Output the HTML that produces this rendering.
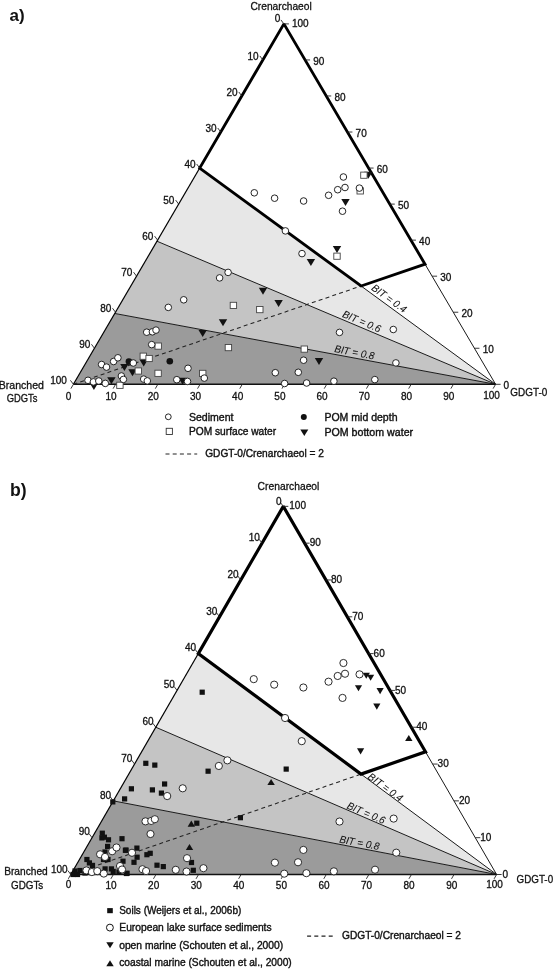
<!DOCTYPE html><html><head><meta charset="utf-8"><style>
html,body{margin:0;padding:0;background:#fff;}
svg{display:block;will-change:transform;}
text{font-family:"Liberation Sans", sans-serif;fill:#111;stroke:#111;stroke-width:0.3px;}
.ax{font-size:10px;}
.lab{font-size:10.8px;}
.bit{font-size:10.3px;font-style:italic;stroke-width:0.05px;}
.leg{font-size:10.6px;stroke-width:0.38px;}
.hd{font-size:17px;font-weight:bold;stroke-width:0;}
</style></head><body>
<svg width="557" height="969" viewBox="0 0 557 969">
<polygon points="114.76,313.48 73.4,384.3 495.6,384.3" fill="#9b9b9b"/>
<polygon points="156.97,241.22 114.76,313.48 495.6,384.3" fill="#c4c4c4"/>
<polygon points="199.7,168.06 156.97,241.22 495.6,384.3" fill="#e7e7e7"/>
<line x1="199.7" y1="168.06" x2="495.6" y2="384.3" stroke="#1a1a1a" stroke-width="1"/>
<line x1="156.97" y1="241.22" x2="495.6" y2="384.3" stroke="#1a1a1a" stroke-width="1"/>
<line x1="114.76" y1="313.48" x2="495.6" y2="384.3" stroke="#1a1a1a" stroke-width="1"/>
<polyline points="283.9,23.9 73.4,384.3" fill="none" stroke="#000" stroke-width="1.2"/>
<polyline points="495.6,384.3 283.9,23.9" fill="none" stroke="#1a1a1a" stroke-width="1"/>
<line x1="73.4" y1="384.3" x2="495.6" y2="384.3" stroke="#111" stroke-width="1.6"/>
<line x1="73.4" y1="384.3" x2="361.1" y2="286.01" stroke="#222" stroke-width="1.05" stroke-dasharray="4,3.2"/>
<polygon points="283.9,23.9 199.7,168.06 361.1,286.01 425.03,264.17" fill="none" stroke="#000" stroke-width="2.85" stroke-linejoin="miter" stroke-miterlimit="1.8"/>
<line x1="283.9" y1="23.9" x2="280.9" y2="19.9" stroke="#222" stroke-width="0.9"/>
<text x="280.4" y="21.7" text-anchor="end" class="ax">0</text>
<line x1="283.9" y1="23.9" x2="288.9" y2="23.9" stroke="#222" stroke-width="0.9"/>
<text x="292" y="26.6" class="ax">100</text>
<line x1="73.4" y1="384.3" x2="70.9" y2="388.63" stroke="#222" stroke-width="0.9"/>
<text x="68.6" y="399.5" text-anchor="middle" class="ax">0</text>
<line x1="262.85" y1="59.94" x2="259.85" y2="55.94" stroke="#222" stroke-width="0.9"/>
<text x="258.65" y="59.94" text-anchor="end" class="ax">10</text>
<line x1="305.07" y1="59.94" x2="310.07" y2="59.94" stroke="#222" stroke-width="0.9"/>
<text x="313.27" y="64.64" class="ax">90</text>
<line x1="115.62" y1="384.3" x2="113.12" y2="388.63" stroke="#222" stroke-width="0.9"/>
<text x="111.02" y="399.6" text-anchor="middle" class="ax">10</text>
<line x1="241.8" y1="95.98" x2="238.8" y2="91.98" stroke="#222" stroke-width="0.9"/>
<text x="237.6" y="95.98" text-anchor="end" class="ax">20</text>
<line x1="326.24" y1="95.98" x2="331.24" y2="95.98" stroke="#222" stroke-width="0.9"/>
<text x="334.44" y="100.68" class="ax">80</text>
<line x1="157.84" y1="384.3" x2="155.34" y2="388.63" stroke="#222" stroke-width="0.9"/>
<text x="153.24" y="399.6" text-anchor="middle" class="ax">20</text>
<line x1="220.75" y1="132.02" x2="217.75" y2="128.02" stroke="#222" stroke-width="0.9"/>
<text x="216.55" y="132.02" text-anchor="end" class="ax">30</text>
<line x1="347.41" y1="132.02" x2="352.41" y2="132.02" stroke="#222" stroke-width="0.9"/>
<text x="355.61" y="136.72" class="ax">70</text>
<line x1="200.06" y1="384.3" x2="197.56" y2="388.63" stroke="#222" stroke-width="0.9"/>
<text x="195.46" y="399.6" text-anchor="middle" class="ax">30</text>
<line x1="199.7" y1="168.06" x2="196.7" y2="164.06" stroke="#222" stroke-width="0.9"/>
<text x="195.5" y="168.06" text-anchor="end" class="ax">40</text>
<line x1="368.58" y1="168.06" x2="373.58" y2="168.06" stroke="#222" stroke-width="0.9"/>
<text x="376.78" y="172.76" class="ax">60</text>
<line x1="242.28" y1="384.3" x2="239.78" y2="388.63" stroke="#222" stroke-width="0.9"/>
<text x="237.68" y="399.6" text-anchor="middle" class="ax">40</text>
<line x1="178.65" y1="204.1" x2="175.65" y2="200.1" stroke="#222" stroke-width="0.9"/>
<text x="174.45" y="204.1" text-anchor="end" class="ax">50</text>
<line x1="389.75" y1="204.1" x2="394.75" y2="204.1" stroke="#222" stroke-width="0.9"/>
<text x="397.95" y="208.8" class="ax">50</text>
<line x1="284.5" y1="384.3" x2="282" y2="388.63" stroke="#222" stroke-width="0.9"/>
<text x="279.9" y="399.6" text-anchor="middle" class="ax">50</text>
<line x1="157.6" y1="240.14" x2="154.6" y2="236.14" stroke="#222" stroke-width="0.9"/>
<text x="153.4" y="240.14" text-anchor="end" class="ax">60</text>
<line x1="410.92" y1="240.14" x2="415.92" y2="240.14" stroke="#222" stroke-width="0.9"/>
<text x="419.12" y="244.84" class="ax">40</text>
<line x1="326.72" y1="384.3" x2="324.22" y2="388.63" stroke="#222" stroke-width="0.9"/>
<text x="322.12" y="399.6" text-anchor="middle" class="ax">60</text>
<line x1="136.55" y1="276.18" x2="133.55" y2="272.18" stroke="#222" stroke-width="0.9"/>
<text x="132.35" y="276.18" text-anchor="end" class="ax">70</text>
<line x1="432.09" y1="276.18" x2="437.09" y2="276.18" stroke="#222" stroke-width="0.9"/>
<text x="440.29" y="280.88" class="ax">30</text>
<line x1="368.94" y1="384.3" x2="366.44" y2="388.63" stroke="#222" stroke-width="0.9"/>
<text x="364.34" y="399.6" text-anchor="middle" class="ax">70</text>
<line x1="115.5" y1="312.22" x2="112.5" y2="308.22" stroke="#222" stroke-width="0.9"/>
<text x="111.3" y="312.22" text-anchor="end" class="ax">80</text>
<line x1="453.26" y1="312.22" x2="458.26" y2="312.22" stroke="#222" stroke-width="0.9"/>
<text x="461.46" y="316.92" class="ax">20</text>
<line x1="411.16" y1="384.3" x2="408.66" y2="388.63" stroke="#222" stroke-width="0.9"/>
<text x="406.56" y="399.6" text-anchor="middle" class="ax">80</text>
<line x1="94.45" y1="348.26" x2="91.45" y2="344.26" stroke="#222" stroke-width="0.9"/>
<text x="90.25" y="348.26" text-anchor="end" class="ax">90</text>
<line x1="474.43" y1="348.26" x2="479.43" y2="348.26" stroke="#222" stroke-width="0.9"/>
<text x="482.63" y="352.96" class="ax">10</text>
<line x1="453.38" y1="384.3" x2="450.88" y2="388.63" stroke="#222" stroke-width="0.9"/>
<text x="448.78" y="399.6" text-anchor="middle" class="ax">90</text>
<line x1="73.4" y1="384.3" x2="70.4" y2="380.3" stroke="#222" stroke-width="0.9"/>
<text x="66.9" y="384.4" text-anchor="end" class="ax">100</text>
<line x1="495.6" y1="384.3" x2="500.6" y2="384.3" stroke="#222" stroke-width="0.9"/>
<text x="503.5" y="388.7" class="ax">0</text>
<line x1="495.6" y1="384.3" x2="493.1" y2="388.63" stroke="#222" stroke-width="0.9"/>
<text x="491.6" y="399" text-anchor="middle" class="ax">100</text>
<text transform="translate(370.7,289.3) rotate(36.16)" class="bit" textLength="40.5" lengthAdjust="spacingAndGlyphs">BIT = 0.4</text>
<text transform="translate(341.7,316.8) rotate(22.91)" class="bit" textLength="40.5" lengthAdjust="spacingAndGlyphs">BIT = 0.6</text>
<text transform="translate(333.9,352) rotate(10.53)" class="bit" textLength="40.5" lengthAdjust="spacingAndGlyphs">BIT = 0.8</text>
<polygon points="364.1,171.7 372.5,171.7 368.3,178.7" fill="#111"/>
<polygon points="341.3,198.9 349.7,198.9 345.5,205.9" fill="#111"/>
<polygon points="306.7,258.9 315.1,258.9 310.9,265.9" fill="#111"/>
<polygon points="332.8,246 341.2,246 337,253" fill="#111"/>
<polygon points="258.8,287.7 267.2,287.7 263,294.7" fill="#111"/>
<polygon points="274.4,299.9 282.8,299.9 278.6,306.9" fill="#111"/>
<polygon points="218.8,319.2 227.2,319.2 223,326.2" fill="#111"/>
<polygon points="198.5,329.9 206.9,329.9 202.7,336.9" fill="#111"/>
<polygon points="314.8,358.1 323.2,358.1 319,365.1" fill="#111"/>
<polygon points="178.4,377.8 186.8,377.8 182.6,384.8" fill="#111"/>
<polygon points="89.7,383.1 98.1,383.1 93.9,390.1" fill="#111"/>
<polygon points="107.2,377.2 115.6,377.2 111.4,384.2" fill="#111"/>
<polygon points="120.2,364.1 128.6,364.1 124.4,371.1" fill="#111"/>
<polygon points="128.3,369.2 136.7,369.2 132.5,376.2" fill="#111"/>
<polygon points="139.5,359.5 147.9,359.5 143.7,366.5" fill="#111"/>
<circle cx="169.8" cy="361.3" r="3.3" fill="#111"/>
<circle cx="128.9" cy="361.6" r="3.3" fill="#111"/>
<rect x="360.7" y="172.1" width="6.4" height="6.2" fill="#fff" stroke="#444" stroke-width="0.9"/>
<rect x="357" y="187.8" width="6.4" height="6.2" fill="#fff" stroke="#444" stroke-width="0.9"/>
<rect x="333.8" y="253.1" width="6.4" height="6.2" fill="#fff" stroke="#444" stroke-width="0.9"/>
<rect x="230.2" y="302.3" width="6.4" height="6.2" fill="#fff" stroke="#444" stroke-width="0.9"/>
<rect x="256.6" y="306.5" width="6.4" height="6.2" fill="#fff" stroke="#444" stroke-width="0.9"/>
<rect x="225.2" y="344.5" width="6.4" height="6.2" fill="#fff" stroke="#444" stroke-width="0.9"/>
<rect x="301.1" y="346" width="6.4" height="6.2" fill="#fff" stroke="#444" stroke-width="0.9"/>
<rect x="199.5" y="370.3" width="6.4" height="6.2" fill="#fff" stroke="#444" stroke-width="0.9"/>
<rect x="155" y="343" width="6.4" height="6.2" fill="#fff" stroke="#444" stroke-width="0.9"/>
<rect x="140.1" y="353.1" width="6.4" height="6.2" fill="#fff" stroke="#444" stroke-width="0.9"/>
<rect x="145.9" y="355.4" width="6.4" height="6.2" fill="#fff" stroke="#444" stroke-width="0.9"/>
<rect x="135.1" y="367.9" width="6.4" height="6.2" fill="#fff" stroke="#444" stroke-width="0.9"/>
<rect x="154.9" y="370.2" width="6.4" height="6.2" fill="#fff" stroke="#444" stroke-width="0.9"/>
<rect x="116.7" y="382.2" width="6.4" height="6.2" fill="#fff" stroke="#444" stroke-width="0.9"/>
<circle cx="254.3" cy="192.8" r="3.3" fill="#fff" stroke="#1a1a1a" stroke-width="0.95"/>
<circle cx="274.6" cy="198.2" r="3.3" fill="#fff" stroke="#1a1a1a" stroke-width="0.95"/>
<circle cx="303.6" cy="201" r="3.3" fill="#fff" stroke="#1a1a1a" stroke-width="0.95"/>
<circle cx="328.6" cy="195.3" r="3.3" fill="#fff" stroke="#1a1a1a" stroke-width="0.95"/>
<circle cx="337.7" cy="189.7" r="3.3" fill="#fff" stroke="#1a1a1a" stroke-width="0.95"/>
<circle cx="345" cy="187.5" r="3.3" fill="#fff" stroke="#1a1a1a" stroke-width="0.95"/>
<circle cx="343.4" cy="177" r="3.3" fill="#fff" stroke="#1a1a1a" stroke-width="0.95"/>
<circle cx="359.4" cy="188.1" r="3.3" fill="#fff" stroke="#1a1a1a" stroke-width="0.95"/>
<circle cx="342.5" cy="211.2" r="3.3" fill="#fff" stroke="#1a1a1a" stroke-width="0.95"/>
<circle cx="285.4" cy="230.9" r="3.3" fill="#fff" stroke="#1a1a1a" stroke-width="0.95"/>
<circle cx="302" cy="253.6" r="3.3" fill="#fff" stroke="#1a1a1a" stroke-width="0.95"/>
<circle cx="228.1" cy="272.4" r="3.3" fill="#fff" stroke="#1a1a1a" stroke-width="0.95"/>
<circle cx="219.6" cy="277.9" r="3.3" fill="#fff" stroke="#1a1a1a" stroke-width="0.95"/>
<circle cx="183.7" cy="299.8" r="3.3" fill="#fff" stroke="#1a1a1a" stroke-width="0.95"/>
<circle cx="168.3" cy="307.4" r="3.3" fill="#fff" stroke="#1a1a1a" stroke-width="0.95"/>
<circle cx="339.5" cy="332.4" r="3.3" fill="#fff" stroke="#1a1a1a" stroke-width="0.95"/>
<circle cx="393.3" cy="329.5" r="3.3" fill="#fff" stroke="#1a1a1a" stroke-width="0.95"/>
<circle cx="395.9" cy="362.9" r="3.3" fill="#fff" stroke="#1a1a1a" stroke-width="0.95"/>
<circle cx="303.6" cy="360.2" r="3.3" fill="#fff" stroke="#1a1a1a" stroke-width="0.95"/>
<circle cx="298.3" cy="372.3" r="3.3" fill="#fff" stroke="#1a1a1a" stroke-width="0.95"/>
<circle cx="284.6" cy="383.5" r="3.3" fill="#fff" stroke="#1a1a1a" stroke-width="0.95"/>
<circle cx="306.6" cy="383" r="3.3" fill="#fff" stroke="#1a1a1a" stroke-width="0.95"/>
<circle cx="333.9" cy="381.2" r="3.3" fill="#fff" stroke="#1a1a1a" stroke-width="0.95"/>
<circle cx="374.8" cy="379.6" r="3.3" fill="#fff" stroke="#1a1a1a" stroke-width="0.95"/>
<circle cx="275.3" cy="372.7" r="3.3" fill="#fff" stroke="#1a1a1a" stroke-width="0.95"/>
<circle cx="188" cy="368.3" r="3.3" fill="#fff" stroke="#1a1a1a" stroke-width="0.95"/>
<circle cx="204.3" cy="378.1" r="3.3" fill="#fff" stroke="#1a1a1a" stroke-width="0.95"/>
<circle cx="176.8" cy="379.7" r="3.3" fill="#fff" stroke="#1a1a1a" stroke-width="0.95"/>
<circle cx="187.5" cy="381.4" r="3.3" fill="#fff" stroke="#1a1a1a" stroke-width="0.95"/>
<circle cx="146.7" cy="332.2" r="3.3" fill="#fff" stroke="#1a1a1a" stroke-width="0.95"/>
<circle cx="152.4" cy="331.8" r="3.3" fill="#fff" stroke="#1a1a1a" stroke-width="0.95"/>
<circle cx="156" cy="330.1" r="3.3" fill="#fff" stroke="#1a1a1a" stroke-width="0.95"/>
<circle cx="151.7" cy="344.6" r="3.3" fill="#fff" stroke="#1a1a1a" stroke-width="0.95"/>
<circle cx="101.6" cy="364.5" r="3.3" fill="#fff" stroke="#1a1a1a" stroke-width="0.95"/>
<circle cx="106.5" cy="367.1" r="3.3" fill="#fff" stroke="#1a1a1a" stroke-width="0.95"/>
<circle cx="113.6" cy="361.5" r="3.3" fill="#fff" stroke="#1a1a1a" stroke-width="0.95"/>
<circle cx="117.9" cy="357.8" r="3.3" fill="#fff" stroke="#1a1a1a" stroke-width="0.95"/>
<circle cx="88" cy="380.3" r="3.3" fill="#fff" stroke="#1a1a1a" stroke-width="0.95"/>
<circle cx="93.4" cy="381.9" r="3.3" fill="#fff" stroke="#1a1a1a" stroke-width="0.95"/>
<circle cx="98.8" cy="381" r="3.3" fill="#fff" stroke="#1a1a1a" stroke-width="0.95"/>
<circle cx="105.3" cy="383.4" r="3.3" fill="#fff" stroke="#1a1a1a" stroke-width="0.95"/>
<circle cx="121.4" cy="376" r="3.3" fill="#fff" stroke="#1a1a1a" stroke-width="0.95"/>
<circle cx="123.4" cy="379.4" r="3.3" fill="#fff" stroke="#1a1a1a" stroke-width="0.95"/>
<circle cx="133.3" cy="363" r="3.3" fill="#fff" stroke="#1a1a1a" stroke-width="0.95"/>
<circle cx="143.7" cy="379.1" r="3.3" fill="#fff" stroke="#1a1a1a" stroke-width="0.95"/>
<circle cx="147.3" cy="380.9" r="3.3" fill="#fff" stroke="#1a1a1a" stroke-width="0.95"/>
<polygon points="113.3,800.87 70.8,874.5 496.6,874.5" fill="#9b9b9b"/>
<polygon points="155.8,727.24 113.3,800.87 496.6,874.5" fill="#c4c4c4"/>
<polygon points="198.3,653.61 155.8,727.24 496.6,874.5" fill="#e7e7e7"/>
<line x1="198.3" y1="653.61" x2="496.6" y2="874.5" stroke="#1a1a1a" stroke-width="1"/>
<line x1="155.8" y1="727.24" x2="496.6" y2="874.5" stroke="#1a1a1a" stroke-width="1"/>
<line x1="113.3" y1="800.87" x2="496.6" y2="874.5" stroke="#1a1a1a" stroke-width="1"/>
<polyline points="283.3,506.35 70.8,874.5" fill="none" stroke="#000" stroke-width="1.2"/>
<polyline points="496.6,874.5 283.3,506.35" fill="none" stroke="#1a1a1a" stroke-width="1"/>
<line x1="70.8" y1="874.5" x2="496.6" y2="874.5" stroke="#111" stroke-width="1.6"/>
<line x1="70.8" y1="874.5" x2="361.01" y2="774.1" stroke="#222" stroke-width="1.05" stroke-dasharray="4,3.2"/>
<polygon points="283.3,506.35 198.3,653.61 361.01,774.1 425.5,751.78" fill="none" stroke="#000" stroke-width="3.2" stroke-linejoin="miter" stroke-miterlimit="1.8"/>
<line x1="283.3" y1="506.35" x2="280.3" y2="502.35" stroke="#222" stroke-width="0.9"/>
<text x="281.6" y="504.6" text-anchor="end" class="ax">0</text>
<line x1="283.3" y1="506.35" x2="288.3" y2="506.35" stroke="#222" stroke-width="0.9"/>
<text x="289.3" y="508.5" class="ax">100</text>
<line x1="70.8" y1="874.5" x2="68.3" y2="878.83" stroke="#222" stroke-width="0.9"/>
<text x="68.6" y="888.4" text-anchor="middle" class="ax">0</text>
<line x1="262.05" y1="543.16" x2="259.05" y2="539.16" stroke="#222" stroke-width="0.9"/>
<text x="259.95" y="540.87" text-anchor="end" class="ax">10</text>
<line x1="304.63" y1="543.16" x2="309.63" y2="543.16" stroke="#222" stroke-width="0.9"/>
<text x="309.63" y="546.26" class="ax">90</text>
<line x1="113.38" y1="874.5" x2="110.88" y2="878.83" stroke="#222" stroke-width="0.9"/>
<text x="111.08" y="888.5" text-anchor="middle" class="ax">10</text>
<line x1="240.8" y1="579.98" x2="237.8" y2="575.98" stroke="#222" stroke-width="0.9"/>
<text x="238.7" y="577.68" text-anchor="end" class="ax">20</text>
<line x1="325.96" y1="579.98" x2="330.96" y2="579.98" stroke="#222" stroke-width="0.9"/>
<text x="330.96" y="583.08" class="ax">80</text>
<line x1="155.96" y1="874.5" x2="153.46" y2="878.83" stroke="#222" stroke-width="0.9"/>
<text x="153.66" y="888.5" text-anchor="middle" class="ax">20</text>
<line x1="219.55" y1="616.8" x2="216.55" y2="612.8" stroke="#222" stroke-width="0.9"/>
<text x="217.45" y="614.5" text-anchor="end" class="ax">30</text>
<line x1="347.29" y1="616.8" x2="352.29" y2="616.8" stroke="#222" stroke-width="0.9"/>
<text x="352.29" y="619.9" class="ax">70</text>
<line x1="198.54" y1="874.5" x2="196.04" y2="878.83" stroke="#222" stroke-width="0.9"/>
<text x="196.24" y="888.5" text-anchor="middle" class="ax">30</text>
<line x1="198.3" y1="653.61" x2="195.3" y2="649.61" stroke="#222" stroke-width="0.9"/>
<text x="196.2" y="651.31" text-anchor="end" class="ax">40</text>
<line x1="368.62" y1="653.61" x2="373.62" y2="653.61" stroke="#222" stroke-width="0.9"/>
<text x="373.62" y="656.71" class="ax">60</text>
<line x1="241.12" y1="874.5" x2="238.62" y2="878.83" stroke="#222" stroke-width="0.9"/>
<text x="238.82" y="888.5" text-anchor="middle" class="ax">40</text>
<line x1="177.05" y1="690.42" x2="174.05" y2="686.42" stroke="#222" stroke-width="0.9"/>
<text x="174.95" y="688.12" text-anchor="end" class="ax">50</text>
<line x1="389.95" y1="690.42" x2="394.95" y2="690.42" stroke="#222" stroke-width="0.9"/>
<text x="394.95" y="693.52" class="ax">50</text>
<line x1="283.7" y1="874.5" x2="281.2" y2="878.83" stroke="#222" stroke-width="0.9"/>
<text x="281.4" y="888.5" text-anchor="middle" class="ax">50</text>
<line x1="155.8" y1="727.24" x2="152.8" y2="723.24" stroke="#222" stroke-width="0.9"/>
<text x="153.7" y="724.94" text-anchor="end" class="ax">60</text>
<line x1="411.28" y1="727.24" x2="416.28" y2="727.24" stroke="#222" stroke-width="0.9"/>
<text x="416.28" y="730.34" class="ax">40</text>
<line x1="326.28" y1="874.5" x2="323.78" y2="878.83" stroke="#222" stroke-width="0.9"/>
<text x="323.98" y="888.5" text-anchor="middle" class="ax">60</text>
<line x1="134.55" y1="764.06" x2="131.55" y2="760.06" stroke="#222" stroke-width="0.9"/>
<text x="132.45" y="761.76" text-anchor="end" class="ax">70</text>
<line x1="432.61" y1="764.06" x2="437.61" y2="764.06" stroke="#222" stroke-width="0.9"/>
<text x="437.61" y="767.16" class="ax">30</text>
<line x1="368.86" y1="874.5" x2="366.36" y2="878.83" stroke="#222" stroke-width="0.9"/>
<text x="366.56" y="888.5" text-anchor="middle" class="ax">70</text>
<line x1="113.3" y1="800.87" x2="110.3" y2="796.87" stroke="#222" stroke-width="0.9"/>
<text x="111.2" y="798.57" text-anchor="end" class="ax">80</text>
<line x1="453.94" y1="800.87" x2="458.94" y2="800.87" stroke="#222" stroke-width="0.9"/>
<text x="458.94" y="803.97" class="ax">20</text>
<line x1="411.44" y1="874.5" x2="408.94" y2="878.83" stroke="#222" stroke-width="0.9"/>
<text x="409.14" y="888.5" text-anchor="middle" class="ax">80</text>
<line x1="92.05" y1="837.68" x2="89.05" y2="833.68" stroke="#222" stroke-width="0.9"/>
<text x="89.95" y="835.38" text-anchor="end" class="ax">90</text>
<line x1="475.27" y1="837.68" x2="480.27" y2="837.68" stroke="#222" stroke-width="0.9"/>
<text x="480.27" y="840.78" class="ax">10</text>
<line x1="454.02" y1="874.5" x2="451.52" y2="878.83" stroke="#222" stroke-width="0.9"/>
<text x="451.72" y="888.5" text-anchor="middle" class="ax">90</text>
<line x1="70.8" y1="874.5" x2="67.8" y2="870.5" stroke="#222" stroke-width="0.9"/>
<text x="67.7" y="872.7" text-anchor="end" class="ax">100</text>
<line x1="496.6" y1="874.5" x2="501.6" y2="874.5" stroke="#222" stroke-width="0.9"/>
<text x="502.4" y="877.7" class="ax">0</text>
<line x1="496.6" y1="874.5" x2="494.1" y2="878.83" stroke="#222" stroke-width="0.9"/>
<text x="494.6" y="888.4" text-anchor="middle" class="ax">100</text>
<text transform="translate(367.1,778) rotate(36.52)" class="bit" textLength="40.5" lengthAdjust="spacingAndGlyphs">BIT = 0.4</text>
<text transform="translate(346.2,808.2) rotate(23.37)" class="bit" textLength="40.5" lengthAdjust="spacingAndGlyphs">BIT = 0.6</text>
<text transform="translate(338.9,842.4) rotate(10.87)" class="bit" textLength="40.5" lengthAdjust="spacingAndGlyphs">BIT = 0.8</text>
<rect x="199.6" y="689.6" width="5.2" height="5.2" fill="#111"/>
<rect x="143.2" y="760.7" width="5.2" height="5.2" fill="#111"/>
<rect x="152.2" y="762.5" width="5.2" height="5.2" fill="#111"/>
<rect x="162" y="781.4" width="5.2" height="5.2" fill="#111"/>
<rect x="128.8" y="786.2" width="5.2" height="5.2" fill="#111"/>
<rect x="149.8" y="787.3" width="5.2" height="5.2" fill="#111"/>
<rect x="158.8" y="790.5" width="5.2" height="5.2" fill="#111"/>
<rect x="122" y="796.3" width="5.2" height="5.2" fill="#111"/>
<rect x="110.2" y="799.3" width="5.2" height="5.2" fill="#111"/>
<rect x="205.5" y="768.6" width="5.2" height="5.2" fill="#111"/>
<rect x="283.6" y="766.5" width="5.2" height="5.2" fill="#111"/>
<rect x="237.8" y="815.1" width="5.2" height="5.2" fill="#111"/>
<rect x="194.2" y="820.6" width="5.2" height="5.2" fill="#111"/>
<rect x="99.7" y="830.6" width="5.2" height="5.2" fill="#111"/>
<rect x="99.3" y="835.3" width="5.2" height="5.2" fill="#111"/>
<rect x="101.8" y="834.6" width="5.2" height="5.2" fill="#111"/>
<rect x="105.9" y="837.2" width="5.2" height="5.2" fill="#111"/>
<rect x="119.4" y="836.1" width="5.2" height="5.2" fill="#111"/>
<rect x="105" y="843.8" width="5.2" height="5.2" fill="#111"/>
<rect x="122.8" y="847.7" width="5.2" height="5.2" fill="#111"/>
<rect x="102.4" y="849.4" width="5.2" height="5.2" fill="#111"/>
<rect x="100.9" y="856.9" width="5.2" height="5.2" fill="#111"/>
<rect x="105.4" y="856.9" width="5.2" height="5.2" fill="#111"/>
<rect x="120.4" y="858.6" width="5.2" height="5.2" fill="#111"/>
<rect x="102.5" y="866.3" width="5.2" height="5.2" fill="#111"/>
<rect x="108.8" y="866.3" width="5.2" height="5.2" fill="#111"/>
<rect x="110.6" y="868.8" width="5.2" height="5.2" fill="#111"/>
<rect x="116.3" y="869.4" width="5.2" height="5.2" fill="#111"/>
<rect x="124.5" y="870.7" width="5.2" height="5.2" fill="#111"/>
<rect x="84.3" y="856.9" width="5.2" height="5.2" fill="#111"/>
<rect x="86.8" y="860.3" width="5.2" height="5.2" fill="#111"/>
<rect x="89.9" y="862.8" width="5.2" height="5.2" fill="#111"/>
<rect x="72.4" y="868.4" width="5.2" height="5.2" fill="#111"/>
<rect x="77.4" y="867.9" width="5.2" height="5.2" fill="#111"/>
<rect x="70.4" y="871.9" width="5.2" height="5.2" fill="#111"/>
<rect x="74.9" y="871.9" width="5.2" height="5.2" fill="#111"/>
<rect x="82.4" y="870.4" width="5.2" height="5.2" fill="#111"/>
<rect x="134.3" y="845.5" width="5.2" height="5.2" fill="#111"/>
<rect x="134.5" y="854.6" width="5.2" height="5.2" fill="#111"/>
<rect x="144.3" y="852.1" width="5.2" height="5.2" fill="#111"/>
<rect x="147.6" y="850.7" width="5.2" height="5.2" fill="#111"/>
<rect x="131.4" y="859.7" width="5.2" height="5.2" fill="#111"/>
<rect x="154.4" y="862.6" width="5.2" height="5.2" fill="#111"/>
<rect x="160.7" y="864" width="5.2" height="5.2" fill="#111"/>
<rect x="188.9" y="859.9" width="5.2" height="5.2" fill="#111"/>
<rect x="190.7" y="867.7" width="5.2" height="5.2" fill="#111"/>
<rect x="123.5" y="847.5" width="5.2" height="5.2" fill="#111"/>
<rect x="123.8" y="870.9" width="5.2" height="5.2" fill="#111"/>
<polygon points="362.7,672.7 369.9,672.7 366.3,678.8" fill="#111"/>
<polygon points="367,674.7 374.2,674.7 370.6,680.8" fill="#111"/>
<polygon points="354.9,685.2 362.1,685.2 358.5,691.3" fill="#111"/>
<polygon points="376.5,688.1 383.7,688.1 380.1,694.2" fill="#111"/>
<polygon points="373.2,703.6 380.4,703.6 376.8,709.7" fill="#111"/>
<polygon points="357,748.3 364.2,748.3 360.6,754.4" fill="#111"/>
<polygon points="405.1,741 412.5,741 408.8,734.9" fill="#111"/>
<polygon points="267.4,785 274.8,785 271.1,778.9" fill="#111"/>
<polygon points="187.6,826.7 195,826.7 191.3,820.6" fill="#111"/>
<polygon points="185.8,850.1 193.2,850.1 189.5,844" fill="#111"/>
<circle cx="253.76" cy="679.14" r="3.6" fill="#fff" stroke="#222" stroke-width="0.95"/>
<circle cx="274.19" cy="684.65" r="3.6" fill="#fff" stroke="#222" stroke-width="0.95"/>
<circle cx="303.37" cy="687.5" r="3.6" fill="#fff" stroke="#222" stroke-width="0.95"/>
<circle cx="328.53" cy="681.69" r="3.6" fill="#fff" stroke="#222" stroke-width="0.95"/>
<circle cx="337.69" cy="675.97" r="3.6" fill="#fff" stroke="#222" stroke-width="0.95"/>
<circle cx="345.04" cy="673.73" r="3.6" fill="#fff" stroke="#222" stroke-width="0.95"/>
<circle cx="343.43" cy="663.02" r="3.6" fill="#fff" stroke="#222" stroke-width="0.95"/>
<circle cx="359.53" cy="674.34" r="3.6" fill="#fff" stroke="#222" stroke-width="0.95"/>
<circle cx="342.52" cy="697.91" r="3.6" fill="#fff" stroke="#222" stroke-width="0.95"/>
<circle cx="285.06" cy="718.01" r="3.6" fill="#fff" stroke="#222" stroke-width="0.95"/>
<circle cx="301.76" cy="741.16" r="3.6" fill="#fff" stroke="#222" stroke-width="0.95"/>
<circle cx="227.39" cy="760.34" r="3.6" fill="#fff" stroke="#222" stroke-width="0.95"/>
<circle cx="218.84" cy="765.95" r="3.6" fill="#fff" stroke="#222" stroke-width="0.95"/>
<circle cx="182.71" cy="788.3" r="3.6" fill="#fff" stroke="#222" stroke-width="0.95"/>
<circle cx="167.21" cy="796.05" r="3.6" fill="#fff" stroke="#222" stroke-width="0.95"/>
<circle cx="339.5" cy="821.55" r="3.6" fill="#fff" stroke="#222" stroke-width="0.95"/>
<circle cx="393.65" cy="818.59" r="3.6" fill="#fff" stroke="#222" stroke-width="0.95"/>
<circle cx="396.26" cy="852.67" r="3.6" fill="#fff" stroke="#222" stroke-width="0.95"/>
<circle cx="303.37" cy="849.91" r="3.6" fill="#fff" stroke="#222" stroke-width="0.95"/>
<circle cx="298.04" cy="862.26" r="3.6" fill="#fff" stroke="#222" stroke-width="0.95"/>
<circle cx="284.25" cy="873.68" r="3.6" fill="#fff" stroke="#222" stroke-width="0.95"/>
<circle cx="306.39" cy="873.17" r="3.6" fill="#fff" stroke="#222" stroke-width="0.95"/>
<circle cx="333.87" cy="871.34" r="3.6" fill="#fff" stroke="#222" stroke-width="0.95"/>
<circle cx="375.03" cy="869.71" r="3.6" fill="#fff" stroke="#222" stroke-width="0.95"/>
<circle cx="274.89" cy="862.67" r="3.6" fill="#fff" stroke="#222" stroke-width="0.95"/>
<circle cx="187.03" cy="858.18" r="3.6" fill="#fff" stroke="#222" stroke-width="0.95"/>
<circle cx="203.44" cy="868.17" r="3.6" fill="#fff" stroke="#222" stroke-width="0.95"/>
<circle cx="175.76" cy="869.81" r="3.6" fill="#fff" stroke="#222" stroke-width="0.95"/>
<circle cx="186.53" cy="871.54" r="3.6" fill="#fff" stroke="#222" stroke-width="0.95"/>
<circle cx="145.47" cy="821.35" r="3.6" fill="#fff" stroke="#222" stroke-width="0.95"/>
<circle cx="151.21" cy="820.94" r="3.6" fill="#fff" stroke="#222" stroke-width="0.95"/>
<circle cx="154.83" cy="819.21" r="3.6" fill="#fff" stroke="#222" stroke-width="0.95"/>
<circle cx="150.5" cy="834" r="3.6" fill="#fff" stroke="#222" stroke-width="0.95"/>
<circle cx="100.08" cy="854.3" r="3.6" fill="#fff" stroke="#222" stroke-width="0.95"/>
<circle cx="105.01" cy="856.95" r="3.6" fill="#fff" stroke="#222" stroke-width="0.95"/>
<circle cx="112.16" cy="851.24" r="3.6" fill="#fff" stroke="#222" stroke-width="0.95"/>
<circle cx="116.49" cy="847.47" r="3.6" fill="#fff" stroke="#222" stroke-width="0.95"/>
<circle cx="86.39" cy="870.42" r="3.6" fill="#fff" stroke="#222" stroke-width="0.95"/>
<circle cx="91.83" cy="872.05" r="3.6" fill="#fff" stroke="#222" stroke-width="0.95"/>
<circle cx="97.26" cy="871.13" r="3.6" fill="#fff" stroke="#222" stroke-width="0.95"/>
<circle cx="103.8" cy="873.58" r="3.6" fill="#fff" stroke="#222" stroke-width="0.95"/>
<circle cx="120.01" cy="866.03" r="3.6" fill="#fff" stroke="#222" stroke-width="0.95"/>
<circle cx="122.02" cy="869.5" r="3.6" fill="#fff" stroke="#222" stroke-width="0.95"/>
<circle cx="131.98" cy="852.77" r="3.6" fill="#fff" stroke="#222" stroke-width="0.95"/>
<circle cx="142.45" cy="869.2" r="3.6" fill="#fff" stroke="#222" stroke-width="0.95"/>
<circle cx="146.07" cy="871.03" r="3.6" fill="#fff" stroke="#222" stroke-width="0.95"/>
<text x="9.5" y="20.5" class="hd">a)</text>
<text x="10" y="495.6" class="hd" style="font-size:17.6px">b)</text>
<text x="250.5" y="10" class="lab" textLength="61.2" lengthAdjust="spacingAndGlyphs">Crenarchaeol</text>
<text x="257.6" y="490" class="lab" textLength="61.8" lengthAdjust="spacingAndGlyphs">Crenarchaeol</text>
<text x="-1.3" y="388.5" class="lab" textLength="45.3" lengthAdjust="spacingAndGlyphs">Branched</text>
<text x="6.7" y="402.1" class="lab" textLength="30.8" lengthAdjust="spacingAndGlyphs">GDGTs</text>
<text x="510.3" y="396.3" class="lab" textLength="37.0" lengthAdjust="spacingAndGlyphs">GDGT-0</text>
<text x="4.2" y="874.7" class="lab" textLength="43.6" lengthAdjust="spacingAndGlyphs">Branched</text>
<text x="11.0" y="889.0" class="lab" textLength="32.3" lengthAdjust="spacingAndGlyphs">GDGTs</text>
<text x="516.6" y="882.5" class="lab" textLength="36.5" lengthAdjust="spacingAndGlyphs">GDGT-0</text>
<text x="188.9" y="420.6" class="leg" textLength="44.6" lengthAdjust="spacingAndGlyphs">Sediment</text>
<text x="188.9" y="435.2" class="leg" textLength="87.3" lengthAdjust="spacingAndGlyphs">POM surface water</text>
<text x="324.4" y="420.9" class="leg" textLength="73.1" lengthAdjust="spacingAndGlyphs">POM mid depth</text>
<text x="324.4" y="435.7" class="leg" textLength="88.7" lengthAdjust="spacingAndGlyphs">POM bottom water</text>
<text x="205.2" y="457.3" class="leg" textLength="118.7" lengthAdjust="spacingAndGlyphs">GDGT-0/Crenarchaeol = 2</text>
<line x1="165.5" y1="454" x2="197.2" y2="454" stroke="#222" stroke-width="1" stroke-dasharray="4,3.2"/>
<circle cx="168.3" cy="416.8" r="2.9" fill="#fff" stroke="#111" stroke-width="0.9"/>
<rect x="166.2" y="428.3" width="6.2" height="6.2" fill="#fff" stroke="#333" stroke-width="0.9"/>
<circle cx="303.8" cy="417.1" r="3" fill="#111"/>
<polygon points="300.3,429.6 308.3,429.6 304.3,436" fill="#111"/>
<text x="119.2" y="913.8" class="leg" textLength="122.1" lengthAdjust="spacingAndGlyphs">Soils (Weijers et al., 2006b)</text>
<text x="119.3" y="930.8" class="leg" textLength="152.3" lengthAdjust="spacingAndGlyphs">European lake surface sediments</text>
<text x="119.2" y="948.9" class="leg" textLength="164.0" lengthAdjust="spacingAndGlyphs">open marine (Schouten et al., 2000)</text>
<text x="119.2" y="966.3" class="leg" textLength="172.6" lengthAdjust="spacingAndGlyphs">coastal marine (Schouten et al., 2000)</text>
<rect x="107.2" y="908.1" width="5.6" height="5.1" fill="#111"/>
<circle cx="109.9" cy="927.6" r="3.45" fill="#fff" stroke="#111" stroke-width="1"/>
<polygon points="106.3,942.2 113.7,942.2 110,948.2" fill="#111"/>
<polygon points="106.3,966.3 113.7,966.3 110,960.3" fill="#111"/>
<line x1="307.1" y1="936.2" x2="333" y2="936.2" stroke="#222" stroke-width="1.2" stroke-dasharray="4,3.2"/>
<text x="342" y="938.7" class="leg" textLength="119" lengthAdjust="spacingAndGlyphs">GDGT-0/Crenarchaeol = 2</text>
</svg></body></html>
